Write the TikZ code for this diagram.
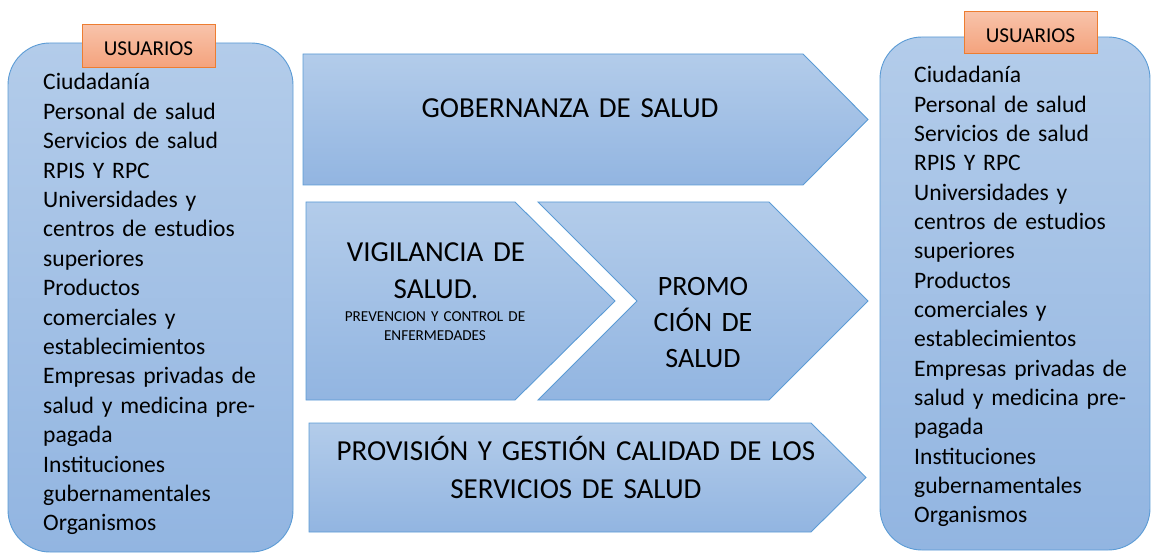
\documentclass[tikz,border=0pt]{standalone}
\usepackage{fontspec}
\setmainfont{Carlito}
\definecolor{boxtop}{HTML}{B3CCEA}
\definecolor{boxbot}{HTML}{92B5E1}
\definecolor{boxedge}{HTML}{5B9BD5}
\definecolor{tabtop}{HTML}{F8C3AA}
\definecolor{tabbot}{HTML}{F4A27C}
\definecolor{tabedge}{HTML}{ED7D31}
\tikzset{
  bluebox/.style={draw=boxedge, line width=0.9pt, top color=boxtop, bottom color=boxbot, line join=miter},
  tabbox/.style={draw=tabedge, line width=1pt, top color=tabtop, bottom color=tabbot},
  listtext/.style={anchor=base west, inner sep=0pt, text width=250pt, align=left, font=\fontsize{23.6}{29.4}\selectfont},
  bigtext/.style={anchor=base, inner sep=0pt, text width=560pt, align=center, font=\fontsize{29}{36}\selectfont},
  smalltext/.style={anchor=base, inner sep=0pt, text width=300pt, align=center, font=\fontsize{15.2}{18}\selectfont},
  tabtext/.style={anchor=base, inner sep=0pt, font=\fontsize{21.2}{24}\selectfont}
}
\begin{document}
\begin{tikzpicture}[x=1pt,y=-1pt]
\useasboundingbox (0,0) rectangle (1151,553);
% user boxes
\path[bluebox, rounded corners=42pt] (8,43) rectangle (293,552);
\path[bluebox, rounded corners=42pt] (880,37) rectangle (1150,550);
% tabs
\path[tabbox] (82,25) rectangle (215,68);
\path[tabbox] (964,12) rectangle (1097,54);
\node[tabtext] (tabL) at (148.5,56) {USUARIOS};
\node[tabtext] (tabR) at (1030.5,43) {USUARIOS};
% arrows
\path[bluebox] (303,54) -- (803,54) -- (868,119.5) -- (803,185) -- (303,185) -- cycle;
\path[bluebox] (306,202) -- (515,202) -- (615,301) -- (515,400) -- (306,400) -- cycle;
\path[bluebox] (538,202) -- (769,202) -- (868,301) -- (769,400) -- (538,400) -- (637,301) -- cycle;
\path[bluebox] (309,423) -- (811,423) -- (866,477.5) -- (811,532) -- (309,532) -- cycle;
% texts
\node[bigtext] (gob) at (570,118) {GOBERNANZA DE SALUD};
\node[bigtext, text width=250pt] (vig) at (436,262) {VIGILANCIA DE\\SALUD.};
\node[smalltext] (prev) at (435,322) {PREVENCION Y CONTROL DE\\ENFERMEDADES};
\node[bigtext, text width=150pt, font=\fontsize{28}{35.5}\selectfont] (prom) at (703,296) {PROMO\\CIÓN DE\\SALUD};
\node[bigtext, font=\fontsize{29}{38}\selectfont] (prov) at (576,460) {PROVISIÓN Y GESTIÓN CALIDAD DE LOS\\SERVICIOS DE SALUD};
\node[listtext] (listL) at (43,90) {Ciudadanía\\Personal de salud\\Servicios de salud\\RPIS Y RPC\\Universidades y\\centros de estudios\\superiores\\Productos\\comerciales y\\establecimientos\\Empresas privadas de\\salud y medicina pre-\\pagada\\Instituciones\\gubernamentales\\Organismos};
\node[listtext, font=\fontsize{23.6}{29.33}\selectfont] (listR) at (914,83) {Ciudadanía\\Personal de salud\\Servicios de salud\\RPIS Y RPC\\Universidades y\\centros de estudios\\superiores\\Productos\\comerciales y\\establecimientos\\Empresas privadas de\\salud y medicina pre-\\pagada\\Instituciones\\gubernamentales\\Organismos};
\end{tikzpicture}
\end{document}
